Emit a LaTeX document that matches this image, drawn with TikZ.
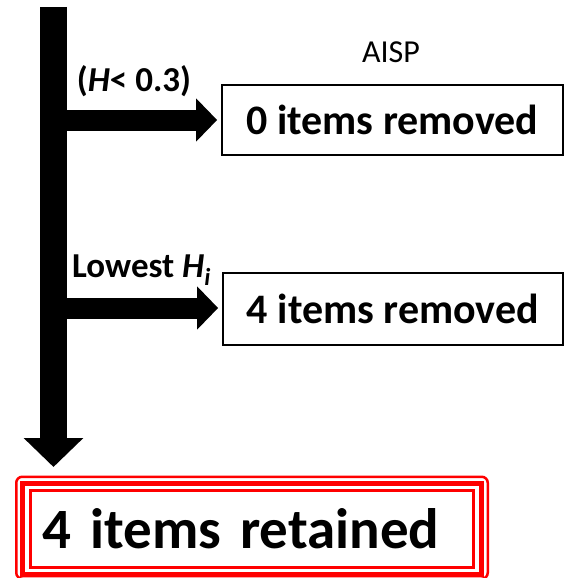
\documentclass[tikz,border=0pt]{standalone}
\usepackage{fontspec}
\setmainfont{Carlito}
\usetikzlibrary{arrows.meta}
\begin{document}
\begin{tikzpicture}[x=1pt,y=-1pt,
  flow/.style={line width=27pt,-{Triangle[length=29pt,width=58pt]}},
  branch/.style={line width=21pt,-{Triangle[length=21pt,width=42pt]},shorten >=4pt},
  outbox/.style={draw=black,line width=1.8pt,inner sep=0pt,font=\fontsize{42}{50}\selectfont\bfseries},
  lbl/.style={inner sep=0pt,font=\fontsize{35}{40}\selectfont\bfseries},
]
\useasboundingbox (0,0) rectangle (568,578);
\node[outbox,minimum width=341pt,minimum height=70pt] (b1) at (392.5,120) {0 items removed};
\node[outbox,minimum width=340pt,minimum height=72pt] (b2) at (393,309) {4 items removed};
\node[inner sep=0pt,anchor=base,font=\fontsize{32}{38}\selectfont] (aisp) at (391,63) {AISP};
\node[lbl,anchor=base] (h) at (134,92) {(\textit{H}< 0.3)};
\node[lbl,anchor=base west] (low) at (72,277) {Lowest \textit{H}\textsubscript{\textit{i}}};
\node[draw=red,line width=2.5pt,minimum width=443pt,minimum height=77pt,text width=419pt,inner xsep=12pt,inner ysep=0pt,align=left,font=\fontsize{57}{66}\selectfont\bfseries] (ret) at (252,529) {4 items retained};
\draw[red,line width=5pt] ([shift={(-7,-6)}]ret.north west) rectangle ([shift={(7,6)}]ret.south east);
\draw[red,line width=2.5pt,rounded corners=6pt] ([shift={(-13,-12.5)}]ret.north west) rectangle ([shift={(13,10)}]ret.south east);
\coordinate (top) at (53.5,7);
\coordinate (vtip) at (53.5,467);
\coordinate (j1) at (53.5,120);
\coordinate (j2) at (53.5,308);
\draw[branch] (j1) -- (b1.west);
\draw[branch] (j2) -- (j2 -| b2.west);
\draw[flow] (top) -- (vtip);
\end{tikzpicture}
\end{document}
